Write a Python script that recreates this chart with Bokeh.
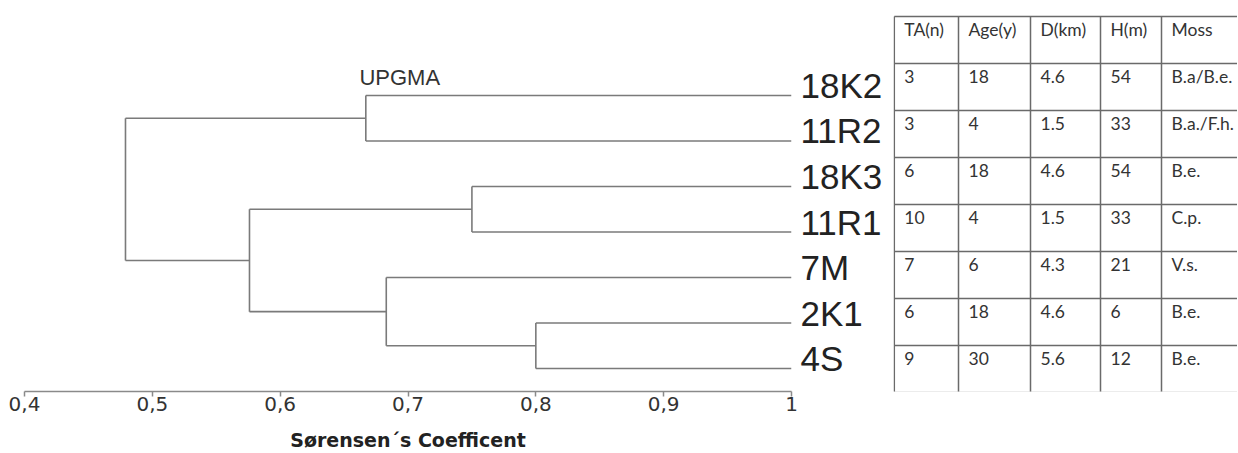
from bokeh.plotting import figure
from bokeh.models import (Range1d, FixedTicker, CustomJSTickFormatter, Label,
                          ColumnDataSource, Row)
from bokeh.core.properties import value
from bokeh.embed import file_html
from bokeh.resources import INLINE

# ---------------- data ----------------
leaves = ["18K2", "11R2", "18K3", "11R1", "7M", "2K1", "4S"]
# UPGMA merges: (child_a, child_b, Sørensen similarity); ids >= 7 are earlier merges
merge_a = [0, 2, 5, 4, 8, 7]
merge_b = [1, 3, 6, 9, 10, 11]
merge_h = [0.667, 0.750, 0.800, 0.683, 0.576, 0.479]
leaf_h = 1.0

x_ticks = [0.4, 0.5, 0.6, 0.7, 0.8, 0.9, 1.0]
axis_title = "Sørensen´s Coefficent"
tree_title = "UPGMA"

tbl_header = ["TA(n)", "Age(y)", "D(km)", "H(m)", "Moss"]
ta = ["3", "3", "6", "10", "7", "6", "9"]
age = ["18", "4", "18", "4", "6", "18", "30"]
dist = ["4.6", "1.5", "4.6", "1.5", "4.3", "4.6", "5.6"]
height_m = ["54", "33", "54", "33", "21", "6", "12"]
moss = ["B.a/B.e.", "B.a./F.h.", "B.e.", "C.p.", "V.s.", "B.e.", "B.e."]

# ---------------- dendrogram geometry from linkage ----------------
n = len(leaves)
pos_y = {i: float(i) for i in range(n)}
pos_x = {i: leaf_h for i in range(n)}
x0, y0, x1, y1 = [], [], [], []
for k, (a, b, h) in enumerate(zip(merge_a, merge_b, merge_h)):
    cid = n + k
    x0.append(h); y0.append(pos_y[a]); x1.append(h); y1.append(pos_y[b])
    for c in (a, b):
        x0.append(h); y0.append(pos_y[c]); x1.append(pos_x[c]); y1.append(pos_y[c])
    pos_y[cid] = (pos_y[a] + pos_y[b]) / 2.0
    pos_x[cid] = h

seg = ColumnDataSource(dict(x0=x0, y0=y0, x1=x1, y1=y1))

FIG_H = 453
TOP = 8
BOTTOM = 62

LINE = "#7a7a7a"
p = figure(width=893, height=FIG_H, output_backend="svg", toolbar_location=None,
           x_range=Range1d(0.4, 1.0), y_range=Range1d(6.505, -1.912),
           y_axis_location="right", min_border_left=24, min_border_right=102,
           min_border_top=TOP, min_border_bottom=BOTTOM)
p.outline_line_color = None
p.grid.visible = False

p.segment("x0", "y0", "x1", "y1", source=seg, line_color=LINE, line_width=1.6)

# x axis
xa = p.xaxis[0]
xa.bounds = (0.4, 1.0)
xa.ticker = FixedTicker(ticks=x_ticks)
xa.formatter = CustomJSTickFormatter(
    code="return tick > 0.999 ? '1' : tick.toFixed(1).replace('.', ',');")
xa.minor_tick_line_color = None
xa.major_tick_in = 0
xa.major_tick_out = 5
xa.axis_line_color = "#8a8a8a"
xa.axis_line_width = 1.5
xa.major_tick_line_color = "#8a8a8a"
xa.major_tick_line_width = 1.5
xa.major_label_text_font = "DejaVu Sans"
xa.major_label_text_font_size = "20px"
xa.major_label_text_color = "#333333"
xa.major_label_standoff = 0
xa.axis_label = axis_title
xa.axis_label_text_font = "DejaVu Sans"
xa.axis_label_text_font_size = "19px"
xa.axis_label_text_font_style = "bold"
xa.axis_label_text_color = "#222222"
xa.axis_label_standoff = 15

# leaf labels on the right axis
ya = p.yaxis[0]
shift = 0.22
ya.ticker = FixedTicker(ticks=[i - shift for i in range(n)])
ya.formatter = CustomJSTickFormatter(args=dict(names=leaves, s=shift),
                                     code="return names[Math.round(tick + s)];")
ya.axis_line_color = None
ya.major_tick_line_color = None
ya.minor_tick_line_color = None
ya.major_tick_in = 0
ya.major_tick_out = 0
ya.major_label_standoff = 9
ya.major_label_text_font = "Liberation Sans"
ya.major_label_text_font_size = "35px"
ya.major_label_text_color = "#222222"

p.add_layout(Label(x=0.662, y=-0.4, text=tree_title, text_font="Liberation Sans",
                   text_font_size="22px", text_color="#333333",
                   text_baseline="middle", text_align="left"))

# ---------------- table (page-pixel coordinates) ----------------
T_LEFT, T_RIGHT = 893, 1237
col_edges = [893.8, 958, 1030, 1100, 1161]
row_h = 47
row_top = 16
n_rows = len(ta) + 1
row_edges = [row_top + row_h * r for r in range(n_rows + 1)]

t = figure(width=T_RIGHT - T_LEFT, height=FIG_H, output_backend="svg",
           toolbar_location=None,
           x_range=Range1d(T_LEFT, T_RIGHT),
           y_range=Range1d(FIG_H - BOTTOM, TOP),
           x_axis_location=None, y_axis_location=None,
           min_border_left=0, min_border_right=0,
           min_border_top=TOP, min_border_bottom=BOTTOM)
t.outline_line_color = None
t.grid.visible = False

TLINE = "#6a6a6a"
t.segment(x0=[col_edges[0]] * len(row_edges), y0=row_edges,
          x1=[T_RIGHT] * len(row_edges), y1=row_edges,
          line_color=TLINE, line_width=1.5)
t.segment(x0=col_edges, y0=[row_edges[0]] * len(col_edges), x1=col_edges,
          y1=[row_edges[-1]] * len(col_edges), line_color=TLINE, line_width=1.5)

columns = [ta, age, dist, height_m, moss]
tx, ty, tt = [], [], []
for c, col in enumerate(columns):
    cells = [tbl_header[c]] + col
    for r, s in enumerate(cells):
        tx.append(col_edges[c] + 10)
        ty.append(row_edges[r] + 12.5)
        tt.append(s)
t.text(x=tx, y=ty, text=tt, text_font=value("Lato"), text_font_size="17.5px",
       text_color="#333333", text_baseline="alphabetic", text_align="left")

layout = Row(children=[p, t], spacing=0)
open("out.html", "w").write(file_html(layout, INLINE))
